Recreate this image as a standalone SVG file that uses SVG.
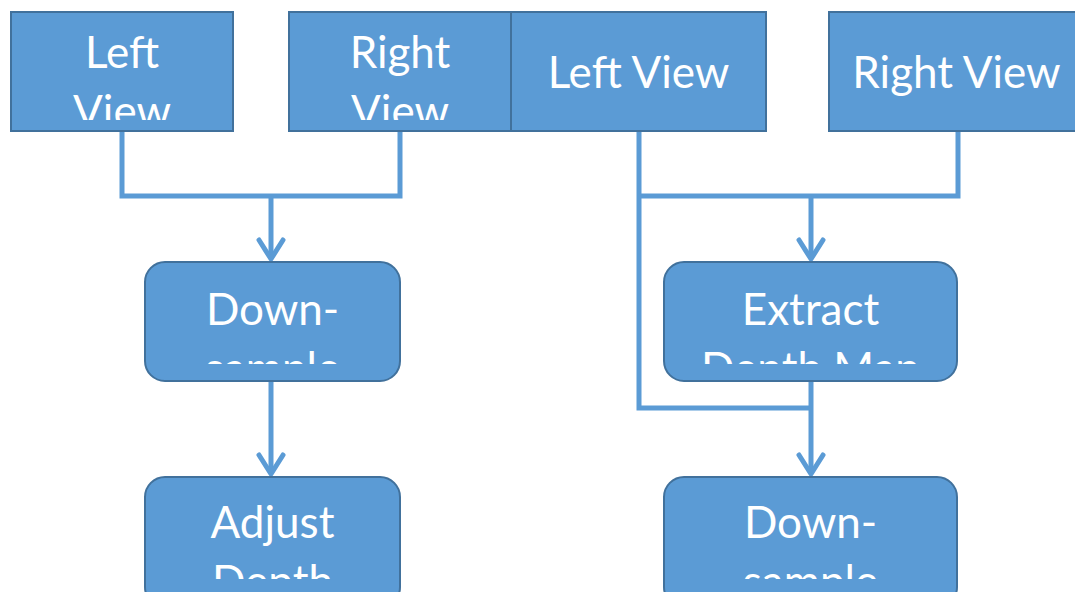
<svg xmlns="http://www.w3.org/2000/svg" width="1075" height="592" viewBox="0 0 1075 592">
  <style>
    .box { fill: #5b9bd5; stroke: #41719c; stroke-width: 2; }
    .lbl { font-family: Lato, "Liberation Sans", sans-serif; font-size: 44px; fill: #ffffff; text-anchor: middle; }
    .conn { fill: none; stroke: #5b9bd5; stroke-width: 5; stroke-linejoin: miter; }
    .head { fill: none; stroke: #5b9bd5; stroke-width: 5; stroke-linecap: round; stroke-linejoin: round; }
  </style>
  <defs>
    <clipPath id="c1"><rect x="11" y="12" width="222" height="108"/></clipPath>
    <clipPath id="c2"><rect x="289" y="12" width="222" height="108"/></clipPath>
    <clipPath id="c5"><rect x="145" y="262" width="255" height="102"/></clipPath>
    <clipPath id="c6"><rect x="145" y="477" width="255" height="102"/></clipPath>
    <clipPath id="c7"><rect x="664" y="262" width="293" height="102"/></clipPath>
    <clipPath id="c8"><rect x="664" y="477" width="293" height="102"/></clipPath>
  </defs>
  <rect width="1075" height="592" fill="#ffffff"/>

  <g id="connectors">
    <path class="conn" d="M122,131 V196 H400 V131"/>
    <path class="conn" d="M271,196 V259"/>
    <path class="head" d="M259,240 L271,259 L283,240"/>
    <path class="conn" d="M271,381 V474"/>
    <path class="head" d="M259,455 L271,474 L283,455"/>
    <path class="conn" d="M639,131 V408 H811"/>
    <path class="conn" d="M639,196 H958 V131"/>
    <path class="conn" d="M811,196 V259"/>
    <path class="head" d="M799,240 L811,259 L823,240"/>
    <path class="conn" d="M811,381 V474"/>
    <path class="head" d="M799,455 L811,474 L823,455"/>
  </g>

  <g id="left-view-1">
    <rect class="box" x="11" y="12" width="222" height="119"/>
    <g clip-path="url(#c1)">
      <text class="lbl" x="122" y="68">Left</text>
      <text class="lbl" x="122" y="127">View</text>
    </g>
  </g>
  <g id="right-view-1">
    <rect class="box" x="289" y="12" width="222" height="119"/>
    <g clip-path="url(#c2)">
      <text class="lbl" x="400" y="68">Right</text>
      <text class="lbl" x="400" y="127">View</text>
    </g>
  </g>
  <g id="left-view-2">
    <rect class="box" x="511" y="12" width="255" height="119"/>
    <text class="lbl" x="638.5" y="88">Left View</text>
  </g>
  <g id="right-view-2">
    <rect class="box" x="829" y="12" width="255" height="119"/>
    <text class="lbl" x="956.5" y="88">Right View</text>
  </g>
  <g id="downsample-1">
    <rect class="box" x="145" y="262" width="255" height="119" rx="20" ry="20"/>
    <g clip-path="url(#c5)">
      <text class="lbl" x="272.5" y="325">Down-</text>
      <text class="lbl" x="272.5" y="384">sample</text>
    </g>
  </g>
  <g id="adjust-depth">
    <rect class="box" x="145" y="477" width="255" height="130" rx="20" ry="20"/>
    <g clip-path="url(#c6)">
      <text class="lbl" x="272.5" y="538">Adjust</text>
      <text class="lbl" x="272.5" y="597">Depth</text>
    </g>
  </g>
  <g id="extract-depth-map">
    <rect class="box" x="664" y="262" width="293" height="119" rx="20" ry="20"/>
    <g clip-path="url(#c7)">
      <text class="lbl" x="810.5" y="325">Extract</text>
      <text class="lbl" x="810.5" y="384">Depth Map</text>
    </g>
  </g>
  <g id="downsample-2">
    <rect class="box" x="664" y="477" width="293" height="130" rx="20" ry="20"/>
    <g clip-path="url(#c8)">
      <text class="lbl" x="810.5" y="538">Down-</text>
      <text class="lbl" x="810.5" y="597">sample</text>
    </g>
  </g>
</svg>
